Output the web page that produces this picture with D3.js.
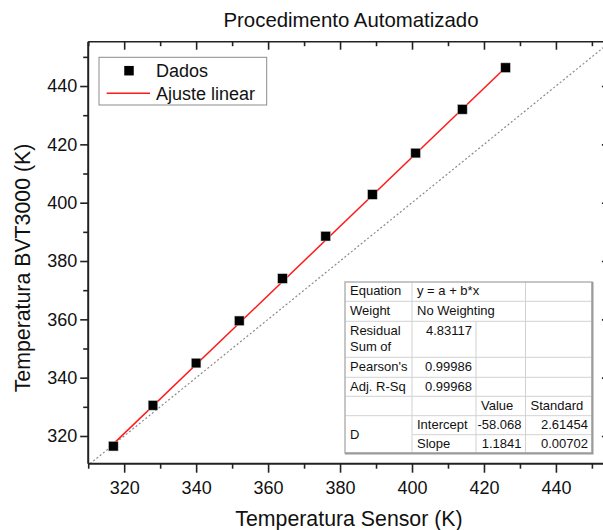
<!DOCTYPE html>
<html>
<head>
<meta charset="utf-8">
<script src="https://cdn.jsdelivr.net/npm/d3@7"></script>
<style>
  html, body { margin: 0; padding: 0; background: #fff; }
  svg { display: block; font-family: "Liberation Sans", Arial, sans-serif; }
</style>
</head>
<body>
<svg id="chart" width="603" height="530"></svg>
<script>
// Measured temperatures (K)
const sensorTemps = [317, 328, 340, 352, 364, 376, 389, 401, 414, 426];
const bvtTemps = [316.5, 330.5, 345, 359.5, 374, 388.5, 402.8, 417, 432, 446.3];

// Linear fit parameters
const fitIntercept = -58.068;
const fitSlope = 1.1841;

// Axis ticks
const xMajorTicks = [320, 340, 360, 380, 400, 420, 440];
const xMinorTicks = [310, 330, 350, 370, 390, 410, 430, 450];
const yMajorTicks = [320, 340, 360, 380, 400, 420, 440];
const yMinorTicks = [330, 350, 370, 390, 410, 430, 450];

// Text
const chartTitle = "Procedimento Automatizado";
const xTitle = "Temperatura Sensor (K)";
const yTitle = "Temperatura BVT3000 (K)";
const legendLabels = ["Dados", "Ajuste linear"];

// Fit report table
const statLabels = ["Equation", "Weight", "Residual Sum of Squares", "Pearson's r", "Adj. R-Sq"];
const statValues = ["y = a + b*x", "No Weighting", "4.83117", "0.99986", "0.99968"];
const paramHeaders = ["Value", "Standard Error"];
const groupLabel = "D";
const paramNames = ["Intercept", "Slope"];
const paramValues = ["-58.068", "1.1841"];
const paramErrors = ["2.61454", "0.00702"];

const svg = d3.select("#chart");
const FONT = "'Liberation Sans', Arial, sans-serif";

const x = d3.scaleLinear().domain([310, 455]).range([88.2, 609.9]);
const y = d3.scaleLinear().domain([310.5, 455.2]).range([463.7, 41.7]);
const [x0, x1] = x.range();
const [yb, yt] = y.range();

// Clip for plotted content
const defs = svg.append("defs");
defs.append("clipPath").attr("id", "plotClip")
  .append("rect").attr("x", x0).attr("y", yt).attr("width", x1 - x0).attr("height", yb - yt);

const plot = svg.append("g").attr("clip-path", "url(#plotClip)");

// Identity reference line y = x
const idDomain = [Math.max(x.domain()[0], y.domain()[0]), Math.min(x.domain()[1], y.domain()[1])];
plot.append("path")
  .attr("d", d3.line().x(d => x(d)).y(d => y(d))(idDomain))
  .attr("fill", "none").attr("stroke", "#8a8a8a").attr("stroke-width", 1.2)
  .attr("stroke-dasharray", "2,2.2");

// Fit line across the data range
const fitX = d3.extent(sensorTemps);
plot.append("path")
  .attr("d", d3.line().x(d => x(d)).y(d => y(fitIntercept + fitSlope * d))(fitX))
  .attr("fill", "none").attr("stroke", "#ff1a1a").attr("stroke-width", 1.5);

// Data markers
const MS = 9.5;
plot.selectAll("rect.pt").data(sensorTemps.map((t, i) => [t, bvtTemps[i]]))
  .enter().append("rect").attr("class", "pt")
  .attr("x", d => x(d[0]) - MS / 2).attr("y", d => y(d[1]) - MS / 2)
  .attr("width", MS).attr("height", MS)
  .attr("fill", "#000").attr("stroke", "#bbb").attr("stroke-width", 0.5);

// Axes
function styleAxis(g) {
  g.select(".domain").remove();
  g.selectAll(".tick line").attr("stroke", "#222").attr("stroke-width", 1.6);
  g.selectAll(".tick text").attr("fill", "#111").style("font-family", FONT).style("font-size", "18px");
}

// bottom
svg.append("g").attr("transform", `translate(0,${yb})`)
  .call(d3.axisBottom(x).tickValues(xMajorTicks).tickSize(9).tickPadding(9).tickFormat(d3.format("d")))
  .call(styleAxis);
svg.append("g").attr("transform", `translate(0,${yb})`)
  .call(d3.axisBottom(x).tickValues(xMinorTicks).tickSize(5).tickFormat(""))
  .call(styleAxis);
// top (inward)
svg.append("g").attr("transform", `translate(0,${yt})`)
  .call(d3.axisTop(x).tickValues(xMajorTicks).tickSize(-8).tickFormat(""))
  .call(styleAxis);
svg.append("g").attr("transform", `translate(0,${yt})`)
  .call(d3.axisTop(x).tickValues(xMinorTicks).tickSize(-4.5).tickFormat(""))
  .call(styleAxis);
// left
svg.append("g").attr("transform", `translate(${x0},0)`)
  .call(d3.axisLeft(y).tickValues(yMajorTicks).tickSize(8).tickPadding(3).tickFormat(d3.format("d")))
  .call(styleAxis);
svg.append("g").attr("transform", `translate(${x0},0)`)
  .call(d3.axisLeft(y).tickValues(yMinorTicks).tickSize(5).tickFormat(""))
  .call(styleAxis);
// right (inward)
svg.append("g").attr("transform", `translate(${x1},0)`)
  .call(d3.axisRight(y).tickValues(yMajorTicks).tickSize(-8).tickFormat(""))
  .call(styleAxis);
svg.append("g").attr("transform", `translate(${x1},0)`)
  .call(d3.axisRight(y).tickValues(yMinorTicks).tickSize(-4.5).tickFormat(""))
  .call(styleAxis);

// Frame
svg.append("line").attr("x1", x0).attr("x2", x1).attr("y1", yb).attr("y2", yb)
  .attr("stroke", "#222").attr("stroke-width", 2);
svg.append("line").attr("x1", x0).attr("x2", x0).attr("y1", yt).attr("y2", yb)
  .attr("stroke", "#222").attr("stroke-width", 2);
svg.append("line").attr("x1", x0).attr("x2", x1).attr("y1", yt).attr("y2", yt)
  .attr("stroke", "#222").attr("stroke-width", 1.6);
svg.append("line").attr("x1", x1).attr("x2", x1).attr("y1", yt).attr("y2", yb)
  .attr("stroke", "#222").attr("stroke-width", 1.6);

// Titles
svg.append("text").attr("x", 351).attr("y", 26.5).attr("text-anchor", "middle")
  .style("font-size", "20.4px").attr("fill", "#111").text(chartTitle);
svg.append("text").attr("x", 349).attr("y", 526).attr("text-anchor", "middle")
  .style("font-size", "21.3px").attr("fill", "#111").text(xTitle);
svg.append("text").attr("transform", "translate(30,268) rotate(-90)").attr("text-anchor", "middle")
  .style("font-size", "21.3px").attr("fill", "#111").text(yTitle);

// Legend
const lg = svg.append("g");
lg.append("rect").attr("x", 99).attr("y", 57.3).attr("width", 167.7).attr("height", 47.7)
  .attr("fill", "#fff").attr("stroke", "#8c8c8c").attr("stroke-width", 1);
lg.append("rect").attr("x", 129 - MS / 2).attr("y", 70.7 - MS / 2).attr("width", MS).attr("height", MS)
  .attr("fill", "#000");
lg.append("line").attr("x1", 106.7).attr("x2", 150).attr("y1", 93.3).attr("y2", 93.3)
  .attr("stroke", "#ff1a1a").attr("stroke-width", 1.5);
lg.append("text").attr("x", 156).attr("y", 76.5).style("font-size", "18px").attr("fill", "#111").text(legendLabels[0]);
lg.append("text").attr("x", 156).attr("y", 99.5).style("font-size", "18px").attr("fill", "#111").text(legendLabels[1]);

// Fit report table
const colX = [345, 412, 476, 525.5, 592];
const rowY = [282, 301.3, 321.3, 357.3, 377.3, 396.3, 415.7, 434.7, 453];
const TF = 13, PAD = 4, LINE_H = 16.7, BASE = 13.2, CAP = 9.3;
const tbl = svg.append("g").style("font-size", TF + "px");
tbl.append("rect").attr("x", colX[0]).attr("y", rowY[0])
  .attr("width", colX[4] - colX[0]).attr("height", rowY[8] - rowY[0])
  .attr("fill", "#fff");

const measurer = svg.append("text").style("font-size", TF + "px").attr("visibility", "hidden");
function textWidth(s) { measurer.text(s); return measurer.node().getComputedTextLength(); }
function wrapWords(s, maxW) {
  const words = s.split(" "); const lines = []; let cur = "";
  words.forEach(w => {
    const t = cur ? cur + " " + w : w;
    if (cur && textWidth(t) > maxW) { lines.push(cur); cur = w; } else cur = t;
  });
  if (cur) lines.push(cur);
  return lines;
}
// Draws a cell's text; wrapped lines that would fall outside the cell are dropped
let clipN = 0;
function cell(c0, c1, r0, r1, txt, align, wrap) {
  const id = "cellClip" + (clipN++);
  defs.append("clipPath").attr("id", id).append("rect")
    .attr("x", colX[c0]).attr("y", rowY[r0]).attr("width", colX[c1] - colX[c0]).attr("height", rowY[r1] - rowY[r0]);
  const g = tbl.append("g").attr("clip-path", `url(#${id})`);
  const lines = wrap ? wrapWords(txt, colX[c1] - colX[c0] - 2 * PAD) : [txt];
  const tx = align === "end" ? colX[c1] - PAD : colX[c0] + PAD + 1;
  lines.forEach((l, i) => {
    const by = rowY[r0] + BASE + i * LINE_H;
    if (by - CAP >= rowY[r1]) return;
    g.append("text").attr("x", tx).attr("y", by)
      .attr("text-anchor", align).attr("fill", "#111").text(l);
  });
  return g;
}

// statistics block
statLabels.forEach((lab, i) => {
  cell(0, 1, i, i + 1, lab, "start", true);
  if (i < 2) cell(1, 3, i, i + 1, statValues[i], "start", false);
  else cell(1, 2, i, i + 1, statValues[i], "end", false);
});
// parameter block
cell(2, 3, 5, 6, paramHeaders[0], "start", true);
cell(3, 4, 5, 6, paramHeaders[1], "start", true);
tbl.append("text").attr("x", colX[0] + PAD + 1).attr("y", (rowY[6] + rowY[8]) / 2 + 5)
  .attr("fill", "#111").text(groupLabel);
paramNames.forEach((p, i) => {
  cell(1, 2, 6 + i, 7 + i, p, "start", false);
  cell(2, 3, 6 + i, 7 + i, paramValues[i], "end", false);
  cell(3, 4, 6 + i, 7 + i, paramErrors[i], "end", false);
});

// grid lines
const gridC = "#d2d2d2";
rowY.slice(1, 8).forEach((ry, i) => {
  const r = i + 1;
  const startCol = r === 7 ? 1 : 0;
  tbl.append("line").attr("x1", colX[startCol]).attr("x2", colX[4]).attr("y1", ry).attr("y2", ry)
    .attr("stroke", gridC).attr("stroke-width", 1);
});
[1, 2, 3].forEach(c => {
  const from = c === 2 ? rowY[2] : rowY[0];
  tbl.append("line").attr("x1", colX[c]).attr("x2", colX[c]).attr("y1", from).attr("y2", rowY[8])
    .attr("stroke", gridC).attr("stroke-width", 1);
});
// outer border
tbl.append("rect").attr("x", colX[0]).attr("y", rowY[0])
  .attr("width", colX[4] - colX[0]).attr("height", rowY[8] - rowY[0])
  .attr("fill", "none").attr("stroke", "#b4b4b4").attr("stroke-width", 1.5);
tbl.append("polyline")
  .attr("points", `${colX[4] + 0.5},${rowY[0]} ${colX[4] + 0.5},${rowY[8] + 0.5} ${colX[0]},${rowY[8] + 0.5}`)
  .attr("fill", "none").attr("stroke", "#9a9a9a").attr("stroke-width", 2);
measurer.remove();
</script>
</body>
</html>
